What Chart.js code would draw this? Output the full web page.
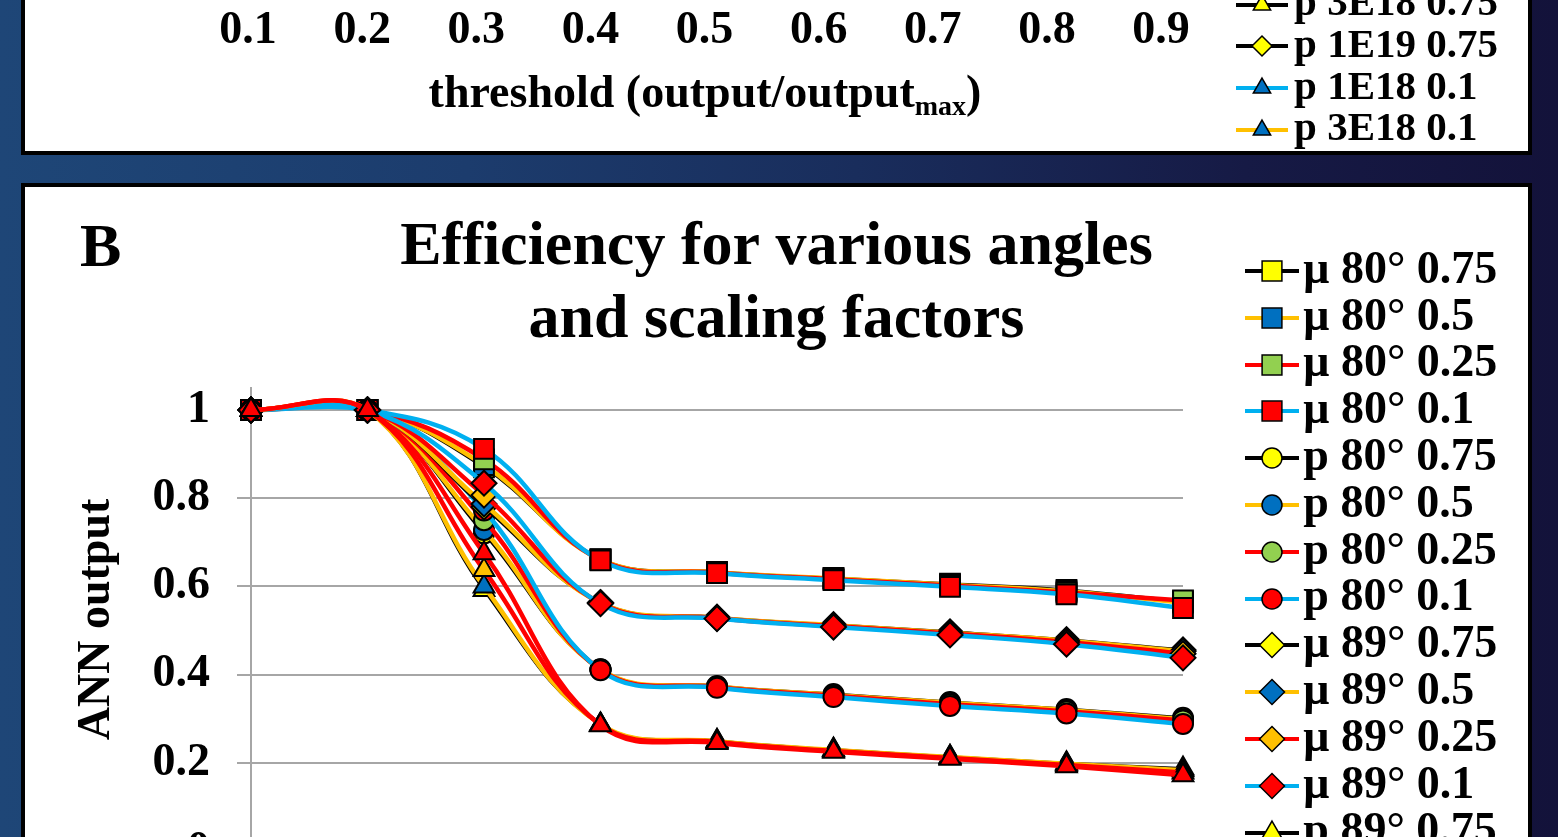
<!doctype html>
<html lang="en">
  <head>
    <meta charset="utf-8">
    <title>Efficiency for various angles and scaling factors</title>
    <style>
      * { margin: 0; padding: 0; }
      html, body { width: 1558px; height: 837px; overflow: hidden; }
      body {
        position: relative;
        background: linear-gradient(90deg, #1e4677 0%, #1c3c6d 30%, #192d5c 55%, #161a45 80%, #13123a 100%);
        font-family: 'Liberation Serif', 'Times New Roman', serif;
      }
      .panel { position: absolute; left: 21px; width: 1503px; background: #fff; border: 4px solid #000; }
      #panelA { top: -300px; height: 447px; }
      #panelB { top: 183px; height: 900px; }
      .panel canvas { position: absolute; left: 0; }
      #chartA { bottom: 0; }
      #chartB { top: 0; }
      .label { position: absolute; font-weight: bold; color: #000; white-space: nowrap; }
      #xTitleA { left: 405px; top: 69px; width: 600px; text-align: center; font-size: 46px; line-height: 46px; }
      #xTitleA sub { font-size: 28px; line-height: 0; vertical-align: -8px; }
      #tagB { left: 80px; top: 214px; font-size: 62px; line-height: 62px; }
    </style>
  </head>
  <body>
    <div class="panel" id="panelA">
      <canvas id="chartA" width="1503" height="400"></canvas>
    </div>
    <div class="label" id="xTitleA">threshold (output/output<sub>max</sub>)</div>

    <div class="panel" id="panelB">
      <canvas id="chartB" width="1503" height="880"></canvas>
    </div>
    <div class="label" id="tagB">B</div>

    <script src="https://cdn.jsdelivr.net/npm/chart.js/dist/chart.umd.min.js"></script>
    <script>
    const SERIF = "'Liberation Serif', 'Times New Roman', serif";

    // x categories (threshold)
    const thresholds = ['0.1', '0.2', '0.3', '0.4', '0.5', '0.6', '0.7', '0.8', '0.9'];

    // panel B values
    const mu80_075 = [1, 1, 0.870, 0.662, 0.633, 0.619, 0.606, 0.592, 0.566];
    const mu80_05  = [1, 1, 0.875, 0.661, 0.632, 0.618, 0.604, 0.589, 0.563];
    const mu80_025 = [1, 1, 0.888, 0.660, 0.631, 0.616, 0.602, 0.586, 0.568];
    const mu80_01  = [1, 1, 0.912, 0.659, 0.630, 0.614, 0.599, 0.582, 0.551];

    const p80_075 = [1, 1, 0.720, 0.412, 0.374, 0.356, 0.338, 0.322, 0.302];
    const p80_05  = [1, 1, 0.728, 0.412, 0.373, 0.354, 0.336, 0.320, 0.299];
    const p80_025 = [1, 1, 0.750, 0.411, 0.372, 0.352, 0.333, 0.317, 0.296];
    const p80_01  = [1, 1, 0.772, 0.410, 0.370, 0.349, 0.329, 0.312, 0.288];

    const mu89_075 = [1, 1, 0.780, 0.563, 0.530, 0.513, 0.497, 0.479, 0.456];
    const mu89_05  = [1, 1, 0.787, 0.563, 0.529, 0.512, 0.495, 0.477, 0.453];
    const mu89_025 = [1, 1, 0.807, 0.562, 0.528, 0.510, 0.493, 0.474, 0.447];
    const mu89_01  = [1, 1, 0.834, 0.561, 0.527, 0.508, 0.490, 0.469, 0.438];

    const p89_075 = [1, 1, 0.592, 0.287, 0.250, 0.230, 0.214, 0.199, 0.187];
    const p89_05  = [1, 1, 0.600, 0.287, 0.249, 0.229, 0.213, 0.198, 0.183];
    const p89_025 = [1, 1, 0.637, 0.286, 0.247, 0.227, 0.211, 0.195, 0.178];
    const p89_01  = [1, 1, 0.675, 0.285, 0.245, 0.225, 0.209, 0.192, 0.172];

    const namesB = [
      'μ 80° 0.75', 'μ 80° 0.5', 'μ 80° 0.25', 'μ 80° 0.1',
      'p 80° 0.75', 'p 80° 0.5', 'p 80° 0.25', 'p 80° 0.1',
      'μ 89° 0.75', 'μ 89° 0.5', 'μ 89° 0.25', 'μ 89° 0.1',
      'p 89° 0.75', 'p 89° 0.5', 'p 89° 0.25', 'p 89° 0.1'
    ];
    const valuesB = [
      mu80_075, mu80_05, mu80_025, mu80_01,
      p80_075, p80_05, p80_025, p80_01,
      mu89_075, mu89_05, mu89_025, mu89_01,
      p89_075, p89_05, p89_025, p89_01
    ];

    // panel A: only the foot of its legend and its x axis are in frame
    const namesA = ['p 3E18 0.75', 'p 1E19 0.75', 'p 1E18 0.1', 'p 3E18 0.1'];

    // colours and markers
    const BLACK = '#000000', GOLD = '#ffc000', RED = '#ff0000', CYAN = '#00b0f0';
    const YELLOW = '#ffff00', BLUE = '#0070c0', GREEN = '#92d050';

    const shapesB = ['rect', 'circle', 'rectRot', 'triangle'];
    const radiusOf = { rect: 14, circle: 10, rectRot: 12.5, triangle: 12 };
    const lineColorsB = [
      [BLACK, GOLD, RED, CYAN], [BLACK, GOLD, RED, CYAN],
      [BLACK, GOLD, RED, CYAN], [BLACK, GOLD, RED, RED]
    ];
    const fillColorsB = [
      [YELLOW, BLUE, GREEN, RED], [YELLOW, BLUE, GREEN, RED],
      [YELLOW, BLUE, GOLD, RED], [YELLOW, BLUE, GOLD, RED]
    ];
    const stylesA = [
      { line: BLACK, fill: YELLOW, shape: 'triangle' },
      { line: BLACK, fill: YELLOW, shape: 'rectRot' },
      { line: CYAN, fill: BLUE, shape: 'triangle' },
      { line: GOLD, fill: BLUE, shape: 'triangle' }
    ];

    Chart.defaults.font.family = SERIF;

    // small line + marker picture for a legend entry
    function legendIcon(lineColor, fill, shape, r, w) {
      const c = document.createElement('canvas');
      c.width = w;
      c.height = 2 * Math.ceil(r) + 6;
      const ctx = c.getContext('2d');
      const cy = c.height / 2;
      ctx.strokeStyle = lineColor;
      ctx.lineWidth = 4;
      ctx.beginPath();
      ctx.moveTo(0, cy);
      ctx.lineTo(w, cy);
      ctx.stroke();
      ctx.fillStyle = fill;
      ctx.strokeStyle = '#000';
      ctx.lineWidth = 1.5;
      Chart.helpers.drawPoint(ctx, { pointStyle: shape, radius: r, borderWidth: 1.5, rotation: 0 }, w / 2, cy);
      return c;
    }

    const blank = document.createElement('canvas');
    blank.width = 1;
    blank.height = 1;

    function iconLabels(names) {
      return () => names.map((text, i) => ({
        text, pointStyle: blank, rotation: 0, fontColor: '#000',
        fillStyle: 'transparent', strokeStyle: 'transparent', lineWidth: 0,
        hidden: false, datasetIndex: i
      }));
    }

    // the legend clips to its own box, so the icons (wider than the box) are painted afterwards
    function iconPlugin(icons, boxWidth) {
      return {
        id: 'legendIcons',
        afterDraw(chart) {
          const boxes = chart.legend && chart.legend.legendHitBoxes;
          if (!boxes) return;
          const ctx = chart.ctx;
          boxes.forEach((b, i) => {
            const img = icons[i];
            if (!img) return;
            ctx.drawImage(img, Math.round(b.left + boxWidth / 2 - img.width / 2), Math.round(b.top + b.height / 2 - img.height / 2));
          });
        }
      };
    }

    const tickText = v => String(Number(v.toFixed(2)));

    // ---------- panel B ----------
    const datasetsB = valuesB.map((vals, i) => {
      const g = Math.floor(i / 4), k = i % 4;
      const line = lineColorsB[g][k];
      return {
        label: namesB[i],
        data: vals,
        borderColor: line,
        borderWidth: line === BLACK ? 3 : 4.5,
        backgroundColor: fillColorsB[g][k],
        pointStyle: shapesB[g],
        pointRadius: radiusOf[shapesB[g]],
        pointBackgroundColor: fillColorsB[g][k],
        pointBorderColor: '#000',
        pointBorderWidth: 2,
        tension: 0.4,
        clip: false,
        order: -i
      };
    });
    const iconsB = datasetsB.map(ds => legendIcon(ds.borderColor, ds.pointBackgroundColor, ds.pointStyle, radiusOf[ds.pointStyle], 54));

    const boldB = { family: SERIF, size: 46, weight: 'bold' };
    const plotRightB = 1158;

    new Chart(document.getElementById('chartB'), {
      type: 'line',
      data: { labels: thresholds, datasets: datasetsB },
      plugins: [iconPlugin(iconsB, 16)],
      options: {
        responsive: false,
        animation: false,
        events: [],
        layout: { padding: { left: 21, right: 21, top: 0, bottom: 0 } },
        plugins: {
          title: {
            display: true,
            text: ['Efficiency for various angles', 'and scaling factors'],
            color: '#000',
            font: { family: SERIF, size: 62, weight: 'bold', lineHeight: 1.177 },
            padding: { top: 24.5, bottom: 30.5 }
          },
          legend: {
            position: 'right',
            align: 'start',
            title: { display: true, text: '', font: { size: 10 }, padding: { top: 48.2, bottom: 0 } },
            labels: {
              usePointStyle: true,
              pointStyleWidth: 16,
              padding: 0.8,
              color: '#000',
              font: boldB,
              generateLabels: iconLabels(namesB)
            }
          },
          tooltip: { enabled: false }
        },
        scales: {
          x: {
            grid: { display: false },
            border: { color: '#a6a6a6', width: 2 },
            ticks: { color: '#000', font: boldB, padding: 8 },
            afterFit: s => { s.height = 216; }
          },
          y: {
            min: 0,
            max: 1.05,
            ticks: { stepSize: 0.2, includeBounds: false, padding: 27, color: '#000', font: boldB, callback: tickText },
            grid: { color: '#a6a6a6', lineWidth: 2, tickLength: 14 },
            border: { color: '#a6a6a6', width: 2 },
            title: { display: true, text: 'ANN output', color: '#000', font: boldB, padding: { top: 23.4, bottom: 0 } },
            afterFit: s => { s.width = 205; }
          },
          gap: {
            type: 'linear',
            position: 'right',
            grid: { display: false },
            border: { display: false },
            ticks: { display: false },
            afterFit: s => { s.width = s.chart.width - 21 - s.chart.legend.width - plotRightB; }
          }
        }
      }
    });

    // ---------- panel A (bottom strip) ----------
    const iconsA = stylesA.map(st => legendIcon(st.line, st.fill, st.shape, 10, 52));
    const plotRightA = 1136;

    new Chart(document.getElementById('chartA'), {
      type: 'line',
      data: {
        labels: thresholds,
        datasets: namesA.map(name => ({ label: name, data: [] }))
      },
      plugins: [iconPlugin(iconsA, 24)],
      options: {
        responsive: false,
        animation: false,
        events: [],
        layout: { padding: { left: 223, right: 20, top: 0, bottom: 0 } },
        plugins: {
          legend: {
            position: 'right',
            align: 'end',
            labels: {
              usePointStyle: true,
              pointStyleWidth: 24,
              padding: 0.7,
              color: '#000',
              font: { family: SERIF, size: 41, weight: 'bold' },
              generateLabels: iconLabels(namesA)
            }
          },
          tooltip: { enabled: false }
        },
        scales: {
          x: {
            grid: { display: false, drawTicks: false },
            border: { display: false },
            ticks: { color: '#000', font: { family: SERIF, size: 46, weight: 'bold' }, padding: 4 },
            afterFit: s => { s.height = 151; }
          },
          y: { display: false, min: 0, max: 1 },
          gap: {
            type: 'linear',
            position: 'right',
            grid: { display: false },
            border: { display: false },
            ticks: { display: false },
            afterFit: s => { s.width = s.chart.width - 20 - s.chart.legend.width - plotRightA; }
          }
        }
      }
    });
    </script>
  </body>
</html>
